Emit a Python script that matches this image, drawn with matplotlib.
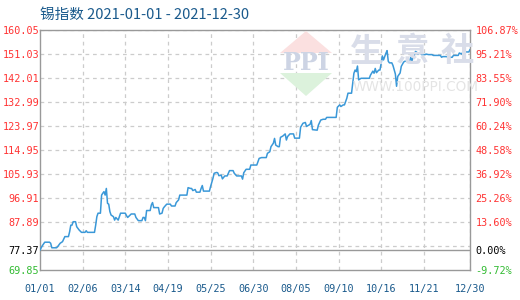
import matplotlib
matplotlib.use("Agg")
import matplotlib.pyplot as plt
from matplotlib.patches import Polygon
import pandas as pd

title = "锡指数 2021-01-01 - 2021-12-30"
base_value = 77.37
y_min, y_max, y_step = 69.85, 160.05, 9.02
x_tick_labels = ["01/01", "02/06", "03/14", "04/19", "05/25", "06/30",
                 "08/05", "09/10", "10/16", "11/21", "12/30"]
left_tick_labels = ["69.85", "77.37", "87.89", "96.91", "105.93", "114.95",
                    "123.97", "132.99", "142.01", "151.03", "160.05"]
right_tick_labels = ["-9.72%", "0.00%", "13.60%", "25.26%", "36.92%", "48.58%",
                     "60.24%", "71.90%", "83.55%", "95.21%", "106.87%"]

days = [0, 2, 4, 8, 9, 10, 14, 15, 17, 19, 21, 24, 25, 26, 27, 28, 30, 31, 33, 35,
        38, 39, 40, 46, 47, 48, 49, 51, 52, 53, 54, 55, 56, 57, 58, 59, 60, 62, 63, 64,
        66, 67, 68, 72, 73, 74, 76, 77, 80, 81, 83, 86, 87, 88, 89, 90, 93, 94, 95, 96,
        100, 101, 103, 104, 105, 107, 110, 111, 114, 115, 117, 118, 124, 125, 127, 128, 129, 131, 132, 135,
        136, 137, 138, 143, 144, 146, 147, 149, 150, 151, 153, 154, 156, 158, 160, 163, 164, 166, 170, 171,
        172, 174, 177, 178, 183, 184, 185, 187, 191, 192, 194, 195, 197, 198, 199, 201, 202, 203, 205, 207,
        208, 209, 211, 214, 215, 219, 220, 222, 224, 225, 228, 229, 230, 234, 235, 237, 239, 241, 242, 250,
        251, 253, 254, 256, 257, 259, 260, 263, 264, 265, 266, 267, 268, 269, 271, 278, 279, 281, 282, 283,
        284, 286, 287, 288, 289, 290, 292, 293, 294, 295, 297, 298, 300, 301, 302, 304, 305, 307, 308, 312,
        313, 314, 315, 316, 317, 318, 319, 321, 322, 325, 326, 328, 331, 332, 338, 339, 340, 343, 345, 348,
        349, 353, 354, 356, 357, 362, 363]
prices = [77.37, 79.0, 80.3, 80.3, 79.9, 78.2, 78.2, 78.7, 79.9, 80.5, 82.4, 82.4, 84.2, 86.7, 86.7, 88.0, 88.0, 86.1, 84.9, 84.0,
          84.0, 84.6, 84.0, 84.0, 86.7, 89.9, 91.2, 91.2, 98.0, 98.7, 99.3, 98.0, 100.5, 94.9, 94.6, 91.8, 90.5, 89.9, 88.6, 89.6,
          88.6, 89.9, 91.2, 91.2, 90.3, 89.6, 90.5, 90.9, 90.9, 89.6, 88.4, 88.4, 89.6, 89.6, 88.4, 92.2, 92.2, 94.3, 95.2, 93.3,
          93.3, 90.9, 91.2, 93.0, 93.6, 94.6, 94.6, 93.9, 93.9, 95.2, 96.2, 98.0, 98.0, 100.8, 100.5, 100.5, 99.7, 100.1, 99.1, 99.1,
          100.5, 101.6, 99.5, 99.5, 101.2, 104.3, 106.2, 106.5, 106.4, 105.3, 105.5, 104.1, 105.2, 105.2, 107.2, 107.2, 106.2, 105.2, 105.2, 104.0,
          106.4, 107.7, 107.7, 109.3, 109.3, 110.6, 111.8, 112.1, 112.1, 113.7, 114.3, 116.2, 117.5, 119.3, 116.8, 116.2, 116.2, 119.7, 120.2, 121.0,
          118.7, 120.0, 121.0, 121.0, 119.4, 119.4, 123.5, 125.0, 125.3, 123.8, 124.6, 126.0, 122.6, 122.4, 124.3, 126.2, 126.5, 126.5, 127.2, 127.2,
          131.0, 131.9, 131.3, 131.9, 131.9, 134.4, 136.3, 136.3, 140.0, 143.8, 145.0, 144.4, 146.5, 141.3, 141.9, 141.9, 143.1, 144.6, 143.8, 145.6,
          144.0, 145.0, 145.0, 147.5, 150.3, 148.8, 151.3, 152.3, 148.3, 147.7, 147.7, 146.7, 143.5, 138.9, 142.6, 143.9, 146.4, 148.0, 148.3, 148.3,
          149.8, 148.3, 150.2, 150.5, 152.0, 151.7, 151.0, 151.5, 150.8, 150.8, 151.0, 150.8, 150.8, 150.5, 150.5, 149.8, 150.05, 150.05, 149.8, 149.8,
          150.5, 150.5, 151.4, 151.0, 151.8, 151.8, 152.65]

RED = "#ff3333"
GREEN = "#33bb33"
BLUE_TXT = "#1a5a8c"
LINE = "#3a98d8"
GRID = "#cccccc"
FRAME = "#999999"

fig = plt.figure(figsize=(5.2, 3.0), dpi=100)
ax = fig.add_axes([40 / 520, 30 / 300, 430 / 520, 240 / 300])
ax.patch.set_alpha(0)

# watermark
fig.patches.append(Polygon([[280 / 520, 1 - 53 / 300], [306 / 520, 1 - 31 / 300], [332 / 520, 1 - 53 / 300]],
                           closed=True, transform=fig.transFigure, facecolor="#fbe0e0", edgecolor="none", zorder=0))
fig.patches.append(Polygon([[280 / 520, 1 - 73 / 300], [332 / 520, 1 - 73 / 300], [306 / 520, 1 - 96 / 300]],
                           closed=True, transform=fig.transFigure, facecolor="#dcf2dc", edgecolor="none", zorder=0))
fig.text(306 / 520, 1 - 63 / 300, "PPI", ha="center", va="center", fontsize=17, fontweight="bold",
         color="#cdd4e4", family="DejaVu Serif", zorder=0)
for i, ch in enumerate("生意社"):
    fig.text((367 + 45 * i) / 520, 1 - 52 / 300, ch, ha="center", va="center", fontsize=24,
             fontweight="bold", color="#d9dde9", family="Noto Sans CJK SC", zorder=0)
fig.text(353 / 520, 1 - 87 / 300, "WWW.100PPI.COM", ha="left", va="center",
         fontsize=9.8, color="#e4e4e4", family="DejaVu Sans", zorder=0)

# grid
levels = [y_min + y_step * k for k in range(1, 11)]
for lv in levels:
    ax.axhline(lv, color=GRID, lw=0.9, ls=(0, (3, 3)), zorder=1)

start = pd.Timestamp("2021-01-01")
x_ticks = [(pd.Timestamp("2021-" + s.replace("/", "-")) - start).days for s in x_tick_labels]
for xt in x_ticks[1:]:
    ax.axvline(xt, color=GRID, lw=0.9, ls=(0, (3, 3)), zorder=1)

ax.axhline(base_value, color=FRAME, lw=1.0, zorder=2)

ax.plot(days, prices, color=LINE, lw=1.1, zorder=3)

ax.set_xlim(0, 363)
ax.set_ylim(y_min, y_max)

for sp in ax.spines.values():
    sp.set_color(FRAME)
    sp.set_linewidth(1.0)

mono = "DejaVu Sans Mono"
ytick_vals = [y_min, base_value] + levels[1:]
ax.set_yticks(ytick_vals)
ax.set_yticklabels(left_tick_labels, family=mono, fontsize=7.3)
ax.tick_params(axis="y", length=0, pad=0.5)
colors = [GREEN, "black"] + [RED] * (len(ytick_vals) - 2)
for lbl, c in zip(ax.get_yticklabels(), colors):
    lbl.set_color(c)

ax.set_xticks(x_ticks)
ax.set_xticklabels(x_tick_labels, family=mono, fontsize=7.3, color=BLUE_TXT)
ax.tick_params(axis="x", length=0, pad=10)

ax2 = ax.twinx()
ax2.set_ylim(y_min, y_max)
ax2.set_yticks(ytick_vals)
ax2.set_yticklabels(right_tick_labels, family=mono, fontsize=7.3)
ax2.tick_params(axis="y", length=0, pad=4)
for lbl, c in zip(ax2.get_yticklabels(), colors):
    lbl.set_color(c)
for sp in ax2.spines.values():
    sp.set_visible(False)

fig.text(40 / 520, 1 - 15 / 300, title, ha="left", va="center", fontsize=10.5, color=BLUE_TXT,
         family=["Noto Sans CJK SC", "DejaVu Sans"])

fig.savefig("out.png", dpi=100)
